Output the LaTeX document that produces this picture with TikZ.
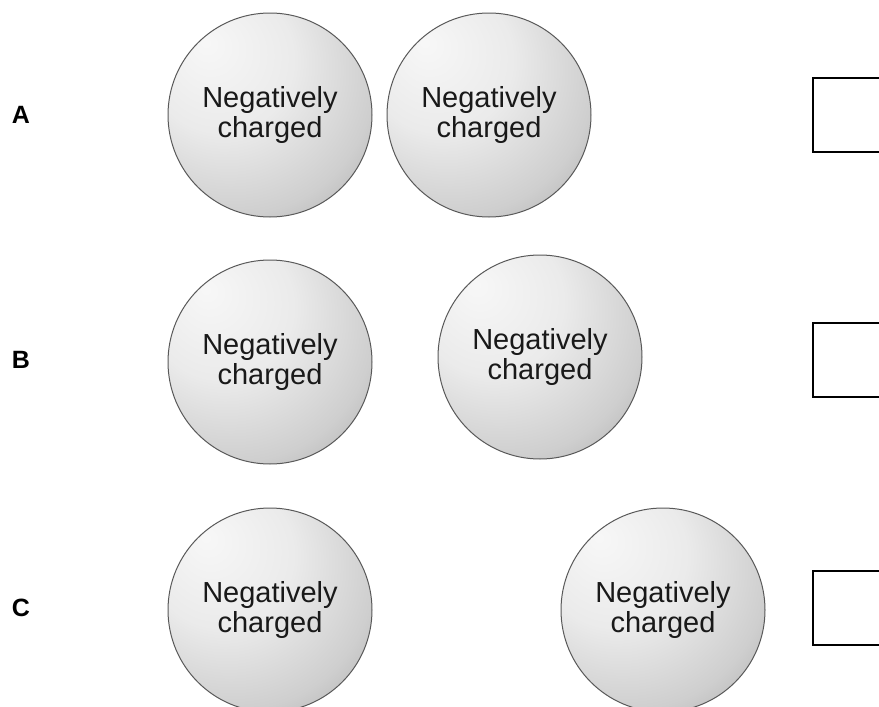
\documentclass[tikz,border=0pt]{standalone}
\usepackage{fontspec}
\setmainfont{Liberation Sans}
\usetikzlibrary{positioning}

\pgfdeclareradialshading{chargeball}{\pgfpoint{-16bp}{18bp}}{%
  color(0bp)=(black!3); color(18bp)=(black!8);
  color(34bp)=(black!19); color(48bp)=(black!36);
  color(60bp)=(black!52); color(72bp)=(black!62)}

\begin{document}
\begin{tikzpicture}[
  x=1pt, y=-1pt,
  charge/.style={circle, draw=black!65, line width=1pt, minimum size=204pt, inner sep=0pt,
    shading=chargeball, align=center, font=\fontsize{29}{30}\selectfont, text=black!90},
  answerbox/.style={draw, line width=1.8pt, minimum width=120pt, minimum height=74pt, anchor=west},
  rowlabel/.style={font=\fontsize{25}{25}\selectfont\bfseries}
]
\useasboundingbox (0,0) rectangle (879,707);

% row A
\node[rowlabel] (laba) at (21,115) {A};
\node[charge] (a1) at (270,115) {Negatively\\charged};
\node[charge, right=14pt of a1] (a2) {Negatively\\charged};
\node[answerbox] (boxa) at (812,115) {};

% row B
\node[rowlabel] (labb) at (21,360) {B};
\node[charge] (b1) at (270,362) {Negatively\\charged};
\node[charge] (b2) at (540,357) {Negatively\\charged};
\node[answerbox] (boxb) at (812,360) {};

% row C
\node[rowlabel] (labc) at (21,608) {C};
\node[charge] (c1) at (270,610) {Negatively\\charged};
\node[charge, right=188pt of c1] (c2) {Negatively\\charged};
\node[answerbox] (boxc) at (812,608) {};
\end{tikzpicture}
\end{document}
